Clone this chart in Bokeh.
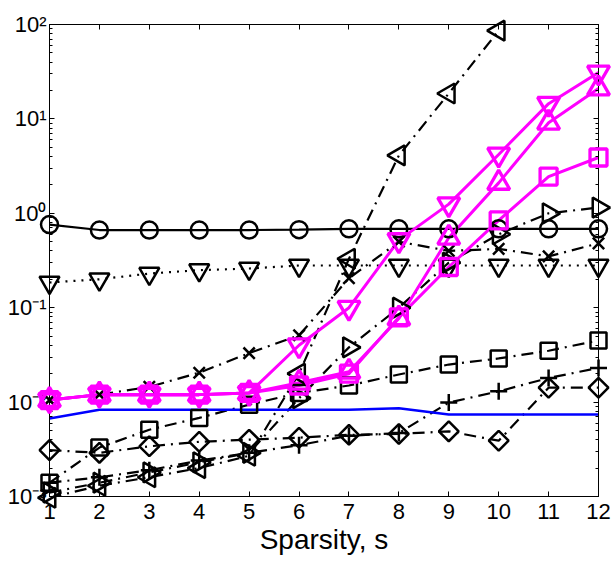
import math

from bokeh.embed import file_html
from bokeh.models import FixedTicker, LinearAxis, LogAxis, Range1d
from bokeh.plotting import figure
from bokeh.resources import INLINE

# Sparsity levels on the x axis
sparsity = [1, 2, 3, 4, 5, 6, 7, 8, 9, 10, 11, 12]

# Error curves (log scale), one list per method
err_circle = [0.76, 0.665, 0.665, 0.665, 0.665, 0.67, 0.685, 0.685, 0.685, 0.685, 0.685, 0.685]
err_tri_down = [0.185, 0.20, 0.23, 0.25, 0.26, 0.28, 0.28, 0.28, 0.28, 0.28, 0.28, 0.28]
err_tri_left = [0.00097, 0.0013, 0.0016, 0.0020, 0.0027, 0.020, 0.33, 4.1, 18.6, 86.0]
err_x = [0.0105, 0.012, 0.0145, 0.0205, 0.033, 0.051, 0.205, 0.50, 0.40, 0.42, 0.35, 0.48]
err_tri_right = [0.0011, 0.0014, 0.0018, 0.0023, 0.0029, 0.011, 0.038, 0.10, 0.30, 0.60, 1.0, 1.15]
err_square = [0.0014, 0.0033, 0.0051, 0.0068, 0.0094, 0.0125, 0.015, 0.0196, 0.025, 0.029, 0.035, 0.045]
err_plus = [0.0014, 0.0016, 0.0019, 0.0024, 0.0029, 0.0035, 0.0044, 0.0047, 0.0099, 0.013, 0.018, 0.023]
err_diamond = [0.0031, 0.0029, 0.0034, 0.0038, 0.0040, 0.0042, 0.0045, 0.0046, 0.0049, 0.0039, 0.0142, 0.0142]
err_blue = [0.0067, 0.0083, 0.0083, 0.0083, 0.0083, 0.0083, 0.0083, 0.0086, 0.0074, 0.0074, 0.0074, 0.0074]
err_mag_down = [0.0105, 0.012, 0.012, 0.012, 0.0125, 0.040, 0.10, 0.52, 1.25, 4.2, 14.5, 31.0]
err_mag_up = [0.0105, 0.012, 0.012, 0.012, 0.0125, 0.016, 0.021, 0.077, 0.55, 2.1, 9.1, 21.0]
err_mag_square = [0.0105, 0.012, 0.012, 0.012, 0.0125, 0.015, 0.020, 0.079, 0.27, 0.84, 2.45, 3.9]

# Axis ticks
y_ticks = [1e-3, 1e-2, 1e-1, 1e0, 1e1, 1e2]
y_tick_labels = ["10\u207b\u00b3", "10\u207b\u00b2", "10\u207b\u00b9", "10\u2070", "10\u00b9", "10\u00b2"]
x_label = "Sparsity, s"

FONT = "Liberation Sans"
BLACK = "#000000"
MAGENTA = "#ff00ff"
BLUE = "#0000ff"
DASHDOT = "12 6 2 6"
DOTTED = "2 6"

p = figure(
    width=614, height=569,
    x_range=Range1d(1, 12), y_range=Range1d(1e-3, 1e2),
    y_axis_type="log",
    output_backend="svg", toolbar_location=None,
    min_border_left=49, min_border_right=16,
    min_border_top=24, min_border_bottom=73,
)
p.background_fill_color = "white"
p.border_fill_color = "white"
p.outline_line_color = BLACK
p.outline_line_width = 1
p.xgrid.visible = False
p.ygrid.visible = False

minor_y = [m * 10.0 ** e for e in range(-3, 2) for m in range(2, 10)]

# bottom axis
xa = p.xaxis[0]
xa.ticker = FixedTicker(ticks=sparsity)
xa.axis_label = x_label
xa.axis_label_text_font = FONT
xa.axis_label_text_font_size = "28px"
xa.axis_label_text_font_style = "normal"
xa.axis_label_standoff = 2
xa.major_label_text_font = FONT
xa.major_label_text_font_size = "22px"
xa.major_label_standoff = 7
xa.major_tick_in = 5
xa.major_tick_out = 0
xa.minor_tick_line_color = None
xa.axis_line_color = BLACK
xa.major_tick_line_color = BLACK
xa.major_label_text_color = BLACK
xa.axis_label_text_color = BLACK

# left axis
ya = p.yaxis[0]
ya.ticker = FixedTicker(ticks=y_ticks, minor_ticks=minor_y)
ya.major_label_overrides = dict(zip(y_ticks, y_tick_labels))
ya.major_label_text_font = FONT
ya.major_label_text_font_size = "22px"
ya.major_label_standoff = 3
ya.major_tick_in = 5
ya.major_tick_out = 0
ya.minor_tick_in = 3
ya.minor_tick_out = 0
ya.axis_line_color = BLACK
ya.major_tick_line_color = BLACK
ya.minor_tick_line_color = BLACK
ya.major_label_text_color = BLACK

# box: ticks on top and right, no labels
top = LinearAxis(
    ticker=FixedTicker(ticks=sparsity),
    major_label_overrides={s: "" for s in sparsity},
    major_label_text_font_size="1px", major_label_standoff=0,
    major_tick_in=5, major_tick_out=0, minor_tick_line_color=None,
    axis_line_color=BLACK, major_tick_line_color=BLACK,
)
p.add_layout(top, "above")
right = LogAxis(
    ticker=FixedTicker(ticks=y_ticks, minor_ticks=minor_y),
    major_label_overrides={t: "" for t in y_ticks},
    major_label_text_font_size="1px", major_label_standoff=0,
    major_tick_in=5, major_tick_out=0, minor_tick_in=3, minor_tick_out=0,
    axis_line_color=BLACK, major_tick_line_color=BLACK, minor_tick_line_color=BLACK,
)
p.add_layout(right, "right")

series = [
    # values, color, dash, marker, size, angle, line width
    (err_circle, BLACK, "solid", "circle", 17, 0.0, 2.2),
    (err_tri_down, BLACK, DOTTED, "inverted_triangle", 20, 0.0, 2.2),
    (err_tri_left, BLACK, DASHDOT, "triangle", 20, math.pi / 2, 2.2),
    (err_x, BLACK, DASHDOT, "x", 16, 0.0, 2.2),
    (err_tri_right, BLACK, DASHDOT, "triangle", 20, -math.pi / 2, 2.2),
    (err_square, BLACK, DASHDOT, "square", 16, 0.0, 2.2),
    (err_plus, BLACK, DASHDOT, "cross", 17, 0.0, 2.2),
    (err_diamond, BLACK, DASHDOT, "square", 14, math.pi / 4, 2.2),
    (err_blue, BLUE, "solid", None, 0, 0.0, 2.5),
    (err_mag_down, MAGENTA, "solid", "inverted_triangle", 22, 0.0, 3),
    (err_mag_up, MAGENTA, "solid", "triangle", 22, 0.0, 3),
    (err_mag_square, MAGENTA, "solid", "square", 17, 0.0, 3),
]

for vals, color, dash, marker, size, angle, lw in series:
    xs = sparsity[:len(vals)]
    p.line(xs, vals, line_color=color, line_width=lw, line_dash=dash)
    if marker is not None:
        r = p.scatter(xs, vals, marker=marker, size=size, angle=angle,
                      line_color=color, line_width=lw + 0.3, fill_color=None)
        r.level = "overlay"

open("out.html", "w").write(file_html(p, INLINE))
